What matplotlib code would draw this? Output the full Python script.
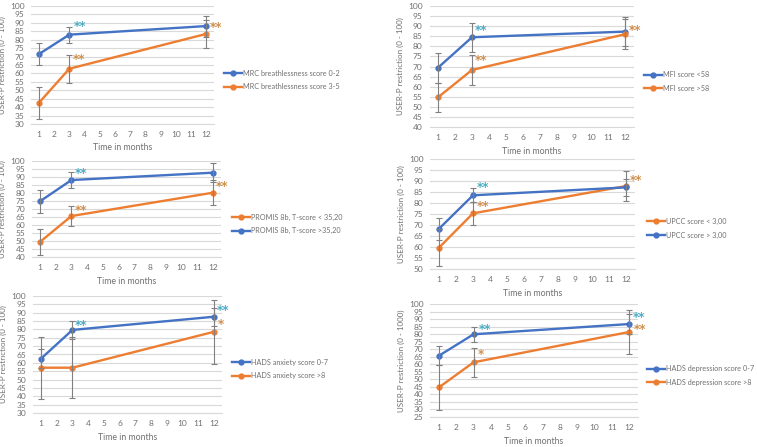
"""
USER-P restriction over time, six subgroup comparisons (2x3 grid).
Saves out.png
"""
import matplotlib.pyplot as plt
from matplotlib.lines import Line2D

plt.rcParams['font.family'] = ['Lato', 'DejaVu Sans']

W, H = 757, 447
months = [1, 3, 12]
xticks = list(range(1, 13))

BLUE, ORANGE = '#4472C4', '#ED7D31'
STAR_BLUE, STAR_ORANGE = '#4BACC6', '#D0904F'
GREY_TXT, GRID = '#707070', '#D9D9D9'

# --- values (mean, error half-width) ---
mrc_02 = [71.5, 83.0, 88.1];  mrc_02_err = [6.4, 4.7, 6.2]
mrc_35 = [42.6, 62.8, 83.4];  mrc_35_err = [9.5, 8.3, 8.5]

mfi_lo = [69.4, 84.5, 87.3];  mfi_lo_err = [7.4, 7.3, 7.1]
mfi_hi = [54.7, 68.3, 86.0];  mfi_hi_err = [7.3, 7.3, 7.5]

promis_lo = [49.4, 65.6, 80.2];  promis_lo_err = [8.4, 6.0, 8.0]
promis_hi = [74.8, 88.1, 92.7];  promis_hi_err = [7.0, 5.0, 5.8]

upcc_lo = [59.7, 75.3, 87.7];  upcc_lo_err = [8.3, 5.2, 7.0]
upcc_hi = [68.3, 83.5, 87.1];  upcc_hi_err = [5.1, 3.2, 3.8]

anx_lo = [62.5, 79.7, 87.6];  anx_lo_err = [5.8, 5.2, 5.4]
anx_hi = [57.1, 57.1, 78.6];  anx_hi_err = [18.6, 18.3, 19.0]

dep_lo = [65.7, 79.9, 86.7];  dep_lo_err = [6.3, 5.0, 6.6]
dep_hi = [44.7, 61.3, 81.4];  dep_hi_err = [15.0, 9.7, 14.8]

YLAB = 'USER-P restriction (0 - 100)'

# rect in pixels: (left, right, y of top value, y of bottom value)
PANELS = [
    dict(px=(31.4, 213.6, 6, 124), ylim=(30, 100), ylabel=YLAB,
         series=[('MRC breathlessness score 0-2', BLUE, mrc_02, mrc_02_err),
                 ('MRC breathlessness score 3-5', ORANGE, mrc_35, mrc_35_err)],
         leg=(224, 80),
         stars=[(0, 1, '**', 4, 8), (1, 1, '**', 3, 9), (1, 2, '**', 4, 6)]),
    dict(px=(429.5, 633.5, 6, 127), ylim=(40, 100), ylabel=YLAB,
         series=[('MFI score <58', BLUE, mfi_lo, mfi_lo_err),
                 ('MFI score >58', ORANGE, mfi_hi, mfi_hi_err)],
         leg=(644, 81.5),
         stars=[(0, 1, '**', 3, 7), (1, 1, '**', 3, 9), (1, 2, '**', 4, 4)]),
    dict(px=(32.1, 220.9, 161, 257), ylim=(40, 100), ylabel=YLAB,
         series=[('PROMIS 8b, T-score < 35,20', ORANGE, promis_lo, promis_lo_err),
                 ('PROMIS 8b, T-score >35,20', BLUE, promis_hi, promis_hi_err)],
         leg=(232, 224),
         stars=[(1, 1, '**', 3, 7), (0, 1, '**', 3, 6), (0, 2, '**', 3, 6)]),
    dict(px=(430.5, 634.5, 159, 269), ylim=(50, 100), ylabel=YLAB,
         series=[('UPCC score < 3,00', ORANGE, upcc_lo, upcc_lo_err),
                 ('UPCC score > 3,00', BLUE, upcc_hi, upcc_hi_err)],
         leg=(647, 228.5),
         stars=[(1, 1, '**', 4, 8), (0, 1, '**', 4, 7), (0, 2, '**', 4, 6)]),
    dict(px=(33.1, 221.9, 296, 413), ylim=(30, 100), ylabel=YLAB,
         series=[('HADS anxiety score 0-7', BLUE, anx_lo, anx_lo_err),
                 ('HADS anxiety score >8', ORANGE, anx_hi, anx_hi_err)],
         leg=(232, 369),
         stars=[(0, 1, '**', 2, 4), (0, 2, '**', 3, 6), (1, 2, '*', 4, 7)]),
    dict(px=(430.4, 637.6, 304, 417), ylim=(25, 100),
         ylabel='USER-P restriction (0 - 1000)',
         series=[('HADS depression score 0-7', BLUE, dep_lo, dep_lo_err),
                 ('HADS depression score >8', ORANGE, dep_hi, dep_hi_err)],
         leg=(647, 375.5),
         stars=[(0, 1, '**', 5, 5), (1, 1, '*', 4, 8),
                (0, 2, '**', 4, 7), (1, 2, '**', 5, 3)]),
]

fig = plt.figure(figsize=(W / 100, H / 100), dpi=100)

for p in PANELS:
    l, r, yt, yb = p['px']
    ax = fig.add_axes([l / W, 1 - yb / H, (r - l) / W, (yb - yt) / H])
    lo, hi = p['ylim']
    ax.set_xlim(0.5, 12.5)
    ax.set_ylim(lo, hi)
    ax.set_xticks(xticks)
    ax.set_yticks(range(lo, hi + 1, 5))
    ax.grid(axis='y', color=GRID, lw=0.8)
    ax.set_axisbelow(True)
    for s in ['top', 'right', 'left']:
        ax.spines[s].set_visible(False)
    ax.spines['bottom'].set_color(GRID)
    ax.tick_params(length=0, labelsize=6, labelcolor=GREY_TXT)
    ax.tick_params(axis='y', pad=5)
    ax.tick_params(axis='x', pad=5)
    ax.set_xlabel('Time in months', fontsize=6.3, color=GREY_TXT, labelpad=4)
    ax.set_ylabel(p['ylabel'], fontsize=5.8, color=GREY_TXT, labelpad=3)

    handles = []
    for lab, col, vals, errs in p['series']:
        ax.errorbar(months, vals, yerr=errs, fmt='none', ecolor='#808080',
                    elinewidth=0.8, capsize=2.5, capthick=0.8, zorder=4)
        ax.plot(months, vals, color=col, lw=1.7, marker='o', ms=3.5, zorder=3)
        handles.append(Line2D([], [], color=col, lw=1.7, marker='o', ms=3.5,
                              label=lab))

    for si, pi, txt, dx, dy in p['stars']:
        col = STAR_BLUE if p['series'][si][1] == BLUE else STAR_ORANGE
        ax.annotate(txt, xy=(months[pi], p['series'][si][2][pi]),
                    xytext=(dx, dy), textcoords='offset pixels',
                    ha='left', va='center', fontsize=8.5, color=col,
                    fontweight='bold', family='DejaVu Sans')

    lx, ly = p['leg']
    fig.legend(handles=handles, loc='center left',
               bbox_to_anchor=(lx / W, 1 - ly / H), frameon=False,
               fontsize=5.2, labelcolor=GREY_TXT, handlelength=2.5,
               handletextpad=0.1, labelspacing=0.95, borderpad=0,
               borderaxespad=0, numpoints=1)

fig.savefig('out.png', dpi=100)
